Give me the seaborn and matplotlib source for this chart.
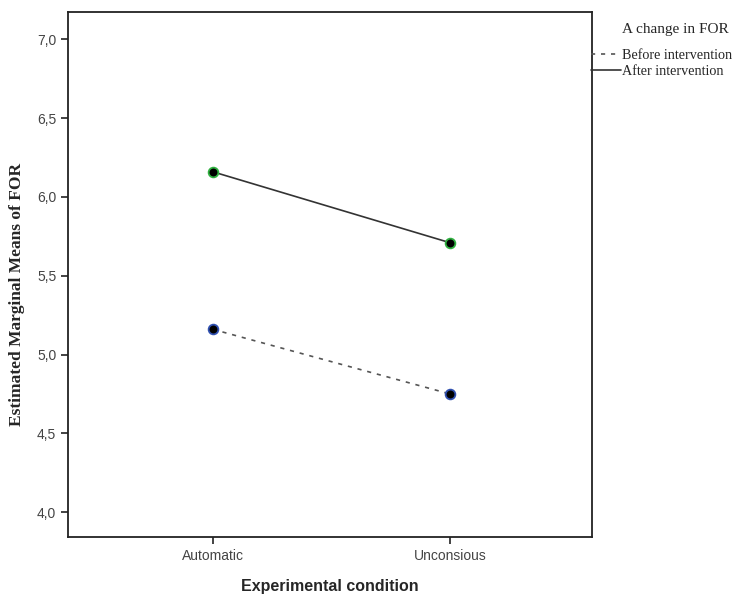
import matplotlib
matplotlib.use('Agg')
import matplotlib.pyplot as plt
import seaborn as sns
import pandas as pd
from matplotlib.ticker import FuncFormatter

# Estimated marginal means
conditions = ['Automatic', 'Unconsious']
before_means = [5.16, 4.75]
after_means = [6.16, 5.71]
series_labels = ['Before intervention', 'After intervention']
y_ticks = [4.0, 4.5, 5.0, 5.5, 6.0, 6.5, 7.0]

df = pd.DataFrame({
    'condition': conditions * 2,
    'mean': before_means + after_means,
    'time': [series_labels[0]] * 2 + [series_labels[1]] * 2,
})

sns.set_style('ticks')
plt.rcParams['font.family'] = ['Liberation Sans', 'DejaVu Sans']

fig = plt.figure(figsize=(7.41, 5.94), dpi=100)
ax = fig.add_axes([0.092, 0.096, 0.707, 0.883])

styles = {
    series_labels[0]: dict(linestyle=(0, (2.5, 3.5)), color='#555555', mec='#3050b0'),
    series_labels[1]: dict(linestyle='-', color='#333333', mec='#30b040'),
}
for name in series_labels:
    st = styles[name]
    sns.lineplot(data=df[df['time'] == name], x='condition', y='mean', ax=ax,
                 color=st['color'], linestyle=st['linestyle'], linewidth=1.2,
                 marker='o', markersize=7, markerfacecolor='black',
                 markeredgecolor=st['mec'], markeredgewidth=1.3, label=name)

ax.set_xlim(-0.61, 1.6)
ax.set_ylim(3.842, 7.171)
ax.set_yticks(y_ticks)
ax.yaxis.set_major_formatter(FuncFormatter(lambda v, p: f'{v:.1f}'.replace('.', ',')))
ax.tick_params(axis='both', direction='out', length=5, width=1.2, colors='#222222',
               labelsize=10, labelcolor='#444444')
for s in ax.spines.values():
    s.set_visible(True)
    s.set_linewidth(1.3)
    s.set_color('#222222')

ax.set_xlabel('Experimental condition', fontsize=11.5, fontweight='bold', labelpad=12)
ax.set_ylabel('Estimated Marginal Means of FOR', fontsize=12.5, fontweight='bold',
              family=['Liberation Serif'])
ax.yaxis.set_label_coords(-0.082, 0.463)

# legend entries, with the title placed as its own text above them
leg = ax.legend(loc='upper left', bbox_to_anchor=(0.998, 0.93), frameon=False,
                handlelength=2.1, handletextpad=0.1, labelspacing=0.2,
                borderaxespad=0, borderpad=0,
                prop={'family': 'Liberation Serif', 'size': 10.2})
for h in leg.legend_handles:
    h.set_marker('')
fig.text(675 / 741, 1 - 29 / 594, 'A change in FOR', ha='center', va='center',
         family='Liberation Serif', fontsize=11)

fig.savefig('out.png', dpi=100)
